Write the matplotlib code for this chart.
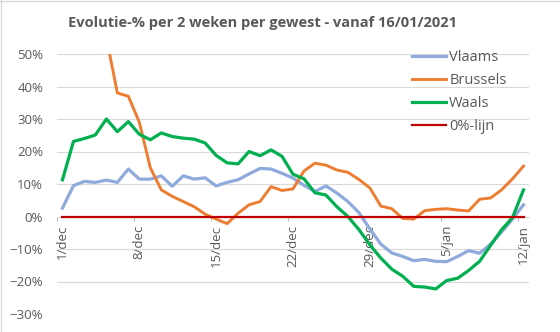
import matplotlib

matplotlib.use("Agg")

import matplotlib.pyplot as plt
import numpy as np
import pandas as pd
from matplotlib.lines import Line2D
from matplotlib.ticker import FixedFormatter, FixedLocator, NullFormatter, PercentFormatter


dates = pd.date_range("2020-12-01", "2021-01-12", freq="D")
tick_labels = ["1/dec", "8/dec", "15/dec", "22/dec", "29/dec", "5/jan", "12/jan"]

vlaams = [
    2.6, 9.5, 10.8, 10.5, 11.2, 10.5, 14.6, 11.5, 11.5, 12.5,
    9.3, 12.5, 11.5, 11.9, 9.4, 10.5, 11.3, 13.1, 14.8, 14.6,
    13.3, 11.8, 9.6, 7.7, 9.4, 7.2, 4.6, 1.2, -3.8, -8.5,
    -11.2, -12.3, -13.6, -13.2, -13.8, -13.9, -12.3, -10.5, -11.3, -8.5,
    -4.8, -0.8, 3.6,
]
brussels = [
    98.0, 85.0, 72.0, 62.0, 55.0, 38.0, 37.0, 29.0, 15.0, 8.2,
    6.2, 4.6, 3.0, 0.7, -0.8, -2.2, 1.0, 3.6, 4.6, 9.2,
    8.0, 8.5, 14.0, 16.4, 15.8, 14.3, 13.6, 11.4, 8.8, 3.2,
    2.4, -0.6, -0.8, 1.8, 2.2, 2.4, 2.0, 1.7, 5.3, 5.7,
    8.2, 11.6, 15.5,
]
waals = [
    11.3, 23.1, 24.0, 25.1, 30.0, 26.1, 29.2, 25.3, 23.6, 25.7,
    24.6, 24.1, 23.8, 22.6, 18.8, 16.5, 16.2, 20.0, 18.7, 20.5,
    18.5, 13.0, 11.6, 7.3, 6.6, 3.0, 0.0, -4.0, -8.7, -12.8,
    -16.2, -18.4, -21.5, -21.7, -22.3, -19.7, -19.0, -16.6, -13.8, -8.9,
    -4.1, -0.3, 8.2,
]
nul_lijn = [0.0] * len(dates)

series = [
    ("Vlaams", vlaams, "#8FAADC", 2.3),
    ("Brussels", brussels, "#ED7D31", 2.1),
    ("Waals", waals, "#00B050", 2.3),
    ("0%-lijn", nul_lijn, "#C00000", 1.6),
]

text_color = "#595959"
grid_color = "#D9D9D9"
plt.rcParams["font.family"] = ["Open Sans", "DejaVu Sans"]

x = np.arange(len(dates))

fig = plt.figure(figsize=(5.6, 3.32), dpi=100)
ax = fig.add_axes([57 / 560, 1 - 314 / 332, 472 / 560, 260 / 332])

for name, values, color, width in series:
    ax.plot(x, values, color=color, linewidth=width, label=name,
            solid_joinstyle="round", zorder=3)

ax.set_xlim(-0.5, len(dates) - 0.5)
ax.set_ylim(-30, 50)
ax.yaxis.set_major_locator(FixedLocator(np.arange(-30, 51, 10)))
ax.yaxis.set_major_formatter(PercentFormatter(decimals=0))
ax.grid(axis="y", color=grid_color, linewidth=0.8, zorder=0)
ax.tick_params(axis="y", length=0, pad=10, labelsize=9.5, labelcolor=text_color)

# weekly tick marks sit at the left edge of each day slot, labels centred on the day
label_pos = x[::7]
ax.xaxis.set_major_locator(FixedLocator(label_pos - 0.5))
ax.xaxis.set_major_formatter(NullFormatter())
ax.xaxis.set_minor_locator(FixedLocator(label_pos))
ax.xaxis.set_minor_formatter(FixedFormatter(tick_labels))
ax.tick_params(axis="x", which="major", length=3, width=0.8, color="#BFBFBF",
               direction="out")
ax.tick_params(axis="x", which="minor", length=0, pad=6, labelsize=9.5,
               labelcolor=text_color, labelrotation=90)

for side in ("left", "right", "top"):
    ax.spines[side].set_visible(False)
ax.spines["bottom"].set_position(("data", 0))
ax.spines["bottom"].set_color(grid_color)

ax.legend(
    loc="upper left",
    bbox_to_anchor=(412 / 560, 1 - 50 / 332),
    bbox_transform=fig.transFigure,
    frameon=False,
    fontsize=10.5,
    labelcolor=text_color,
    handlelength=2.3,
    handletextpad=0.25,
    labelspacing=0.55,
    borderpad=0,
    borderaxespad=0,
)

fig.text(263 / 560, 1 - 23 / 332, "Evolutie-% per 2 weken per gewest - vanaf 16/01/2021",
         ha="center", va="center", fontsize=10.5, fontweight="bold", color=text_color)

# chart border along the left and top edge
fig.add_artist(Line2D([0.001, 0.001], [0, 1], transform=fig.transFigure,
                      color=grid_color, linewidth=1))
fig.add_artist(Line2D([0, 1], [0.998, 0.998], transform=fig.transFigure,
                      color=grid_color, linewidth=1))

fig.savefig("out.png", dpi=100)
plt.close(fig)
